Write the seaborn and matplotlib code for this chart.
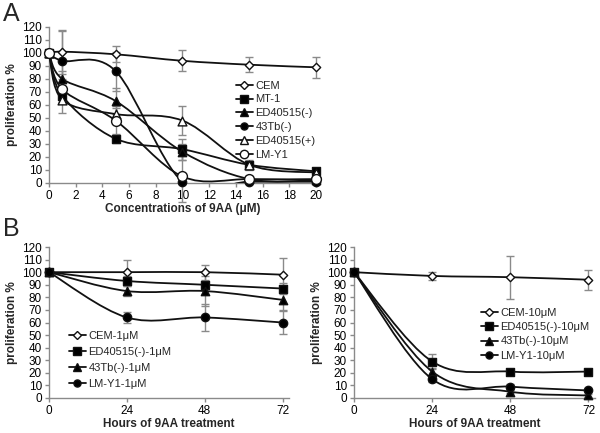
import numpy as np
import seaborn as sns
import matplotlib.pyplot as plt
from matplotlib.path import Path
from matplotlib.patches import PathPatch
from matplotlib.lines import Line2D

# ---- data ----
conc = [0, 1, 5, 10, 15, 20]
a_names = ["CEM", "MT-1", "ED40515(-)", "43Tb(-)", "ED40515(+)", "LM-Y1"]
a_cem = [100, 101, 99, 94, 91, 89]
a_mt1 = [100, 67, 34, 26, 14, 9]
a_ed_neg = [100, 80, 63, 24, 3, 2]
a_43tb = [100, 94, 86, 1, 1, 1]
a_ed_pos = [100, 64, 53, 48, 14, 8]
a_lmy1 = [100, 72, 48, 5, 3, 3]
a_cem_err = [0, 17, 6, 8, 6, 8]
a_mt1_err = [0, 5, 3, 8, 3, 2]
a_ed_neg_err = [0, 6, 10, 6, 2, 1]
a_43tb_err = [0, 23, 15, 2, 1, 1]
a_ed_pos_err = [0, 10, 6, 11, 4, 2]
a_lmy1_err = [0, 8, 10, 20, 2, 1]

hours = [0, 24, 48, 72]
b1_names = ["CEM-1μM", "ED40515(-)-1μM", "43Tb(-)-1μM", "LM-Y1-1μM"]
b1_cem = [100, 100, 100, 98]
b1_ed = [100, 93, 90, 87]
b1_43tb = [100, 85, 85, 78]
b1_lmy1 = [100, 64, 64, 60]
b1_cem_err = [0, 10, 6, 13]
b1_ed_err = [0, 4, 3, 4]
b1_43tb_err = [0, 4, 12, 8]
b1_lmy1_err = [0, 4, 11, 9]

b2_names = ["CEM-10μM", "ED40515(-)-10μM", "43Tb(-)-10μM", "LM-Y1-10μM"]
b2_cem = [100, 97, 96, 94]
b2_ed = [100, 29, 21, 21]
b2_43tb = [100, 21, 5, 2]
b2_lmy1 = [100, 15, 9, 6]
b2_cem_err = [0, 3, 17, 8]
b2_ed_err = [0, 6, 1, 1]
b2_43tb_err = [0, 3, 1, 1]
b2_lmy1_err = [0, 2, 2, 1]

# marker style per cell line: (marker, face, size)
styles = {
    "CEM": ("D", "white", 18),
    "MT-1": ("s", "black", 40),
    "ED40515(-)": ("^", "black", 36),
    "43Tb(-)": ("o", "black", 36),
    "ED40515(+)": ("^", "white", 40),
    "LM-Y1": ("o", "white", 50),
}

sns.set_theme(style="ticks")
plt.rcParams["font.family"] = ["Liberation Sans", "DejaVu Sans"]
LINE = "#111111"
GREY = "#8a8a8a"


def smooth(x, y):
    # Excel-style smoothed line: cubic Bezier through the measured points
    p = np.column_stack([x, y]).astype(float)
    n = len(p)
    verts, codes = [p[0]], [Path.MOVETO]
    for i in range(n - 1):
        p0, p1, p2, p3 = p[max(i - 1, 0)], p[i], p[i + 1], p[min(i + 2, n - 1)]
        verts += [p1 + (p2 - p0) / 6, p2 - (p3 - p1) / 6, p2]
        codes += [Path.CURVE4] * 3
    return Path(verts, codes)


def draw(ax, x, y, err, key):
    m, fc, s = styles[key]
    ax.errorbar(x, y, yerr=err, fmt="none", ecolor=GREY, elinewidth=1,
                capsize=3, capthick=1, zorder=2, clip_on=False)
    ax.add_patch(PathPatch(smooth(x, y), fill=False, edgecolor=LINE, lw=1.3,
                           zorder=3, clip_on=True))
    sns.scatterplot(x=x, y=y, marker=m, color=fc, edgecolor=LINE, linewidth=1,
                    s=s, ax=ax, zorder=4, clip_on=False, legend=False)


def style_ax(ax, xticks, xlim, xlabel):
    ax.set_xlim(*xlim)
    ax.set_ylim(0, 120)
    ax.set_xticks(xticks)
    ax.set_yticks(range(0, 121, 10))
    sns.despine(ax=ax)
    for sp in ("left", "bottom"):
        ax.spines[sp].set_color(GREY)
        ax.spines[sp].set_linewidth(1)
    ax.tick_params(colors=GREY, labelcolor="black", labelsize=8.5, length=3, width=1, pad=2)
    ax.set_xlabel(xlabel, fontsize=8.5, fontweight="bold", labelpad=1)
    ax.set_ylabel("proliferation %", fontsize=8.5, fontweight="bold", labelpad=3)


def legend(ax, keys, labels, anchor, spacing):
    handles = []
    for k in keys:
        m, fc, s = styles[k]
        handles.append(Line2D([], [], color=LINE, lw=1.3, marker=m, markerfacecolor=fc,
                              markeredgecolor=LINE, markersize=np.sqrt(s) * 0.85))
    ax.legend(handles, labels, loc="upper left", bbox_to_anchor=anchor,
              bbox_transform=fig.transFigure, frameon=False, fontsize=8,
              handlelength=1.6, handletextpad=0.2, borderpad=0, labelspacing=spacing)


fig = plt.figure(figsize=(6, 4.33), dpi=100)
axA = fig.add_axes([49 / 600, 1 - 183 / 433, 267 / 600, 156 / 433])
axB1 = fig.add_axes([49 / 600, 1 - 398 / 433, 240 / 600, 151 / 433])
axB2 = fig.add_axes([354 / 600, 1 - 398 / 433, 241 / 600, 151 / 433])

a_series = [a_cem, a_mt1, a_ed_neg, a_43tb, a_ed_pos, a_lmy1]
a_errs = [a_cem_err, a_mt1_err, a_ed_neg_err, a_43tb_err, a_ed_pos_err, a_lmy1_err]
for key, y, e in zip(a_names, a_series, a_errs):
    draw(axA, conc, y, e, key)
style_ax(axA, range(0, 21, 2), (0, 20), "Concentrations of 9AA (μM)")
legend(axA, a_names, a_names, (230 / 600, 1 - 75 / 433), 0.35)

b_keys_marks = ["CEM", "MT-1", "ED40515(-)", "43Tb(-)"]
b1_series = [b1_cem, b1_ed, b1_43tb, b1_lmy1]
b1_errs = [b1_cem_err, b1_ed_err, b1_43tb_err, b1_lmy1_err]
b2_series = [b2_cem, b2_ed, b2_43tb, b2_lmy1]
b2_errs = [b2_cem_err, b2_ed_err, b2_43tb_err, b2_lmy1_err]
for key, y, e in zip(b_keys_marks, b1_series, b1_errs):
    draw(axB1, hours, y, e, key)
for key, y, e in zip(b_keys_marks, b2_series, b2_errs):
    draw(axB2, hours, y, e, key)
for ax in (axB1, axB2):
    style_ax(ax, hours, (0, 74), "Hours of 9AA treatment")
legend(axB1, b_keys_marks, b1_names, (63 / 600, 1 - 325 / 433), 0.55)
legend(axB2, b_keys_marks, b2_names, (475 / 600, 1 - 302 / 433), 0.4)

fig.text(3 / 600, 1 - 21 / 433, "A", fontsize=18)
fig.text(3 / 600, 1 - 236 / 433, "B", fontsize=18)

fig.savefig("out.png", dpi=100)
